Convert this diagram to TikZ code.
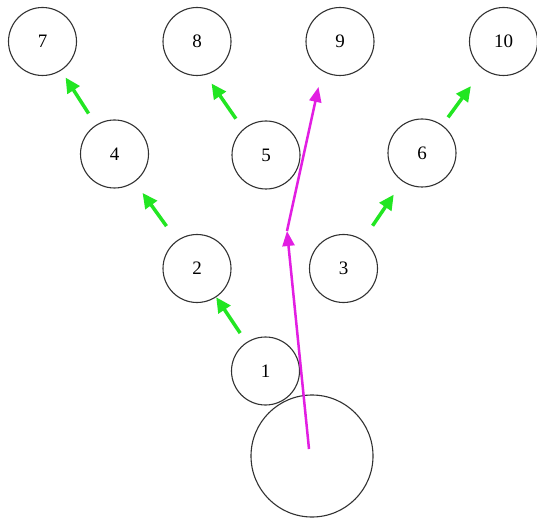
\documentclass[tikz,border=0pt]{standalone}
\usepackage{fontspec}
\setmainfont{Liberation Serif}
\usetikzlibrary{arrows.meta,calc}
\definecolor{grn}{RGB}{34,230,34}
\definecolor{mag}{RGB}{226,30,226}
\definecolor{edge}{RGB}{50,50,50}
\begin{document}
\begin{tikzpicture}[x=1pt,y=-1pt,
  nd/.style={circle,draw=edge,line width=1.1pt,minimum size=68pt,inner sep=0pt,font=\fontsize{19}{22}\selectfont},
  bignd/.style={circle,draw=edge,line width=1.1pt,minimum size=122pt,inner sep=0pt},
  garrow/.style={draw=grn,line width=3.5pt,-{Triangle[length=15pt,width=14pt]}},
  marrow/.style={draw=mag,line width=2.5pt,-{Triangle[length=15pt,width=12pt]}}]
\fill[white] (0,0) rectangle (537,518);
\useasboundingbox (0,0) rectangle (537,518);

\node[nd] (7) at (42.5,41.5) {7};
\node[nd] (8) at (197,41.5) {8};
\node[nd] (9) at (340,41.5) {9};
\node[nd] (10) at (503.5,41.5) {10};
\node[nd] (4) at (114.5,154) {4};
\node[nd] (5) at (266,155) {5};
\node[nd] (6) at (422,153) {6};
\node[nd] (2) at (197,268.5) {2};
\node[nd] (3) at (343.5,268.5) {3};
\node[nd] (1) at (265.5,371) {1};
\node[bignd] (big) at (312,456) {};

\draw[garrow] ($(1)!0.37!(2)$) -- ($(1)!0.72!(2)$);
\draw[garrow] ($(2)!0.37!(4)$) -- ($(2)!0.66!(4)$);
\draw[garrow] ($(4)!0.36!(7)$) -- ($(4)!0.68!(7)$);
\draw[garrow] ($(5)!0.32!(8)+(-8,0)$) -- ($(5)!0.63!(8)+(-11,0)$);
\draw[garrow] ($(3)!0.37!(6)$) -- ($(3)!0.64!(6)$);
\draw[garrow] ($(6)!0.32!(10)$) -- ($(6)!0.60!(10)$);

\coordinate (s) at ($(big)+(-3,-7)$);
\coordinate (m) at (287,231);
\coordinate (t) at (318.5,87);
\draw[marrow] (s) -- (m);
\draw[marrow] (m) -- (t);
\end{tikzpicture}
\end{document}
